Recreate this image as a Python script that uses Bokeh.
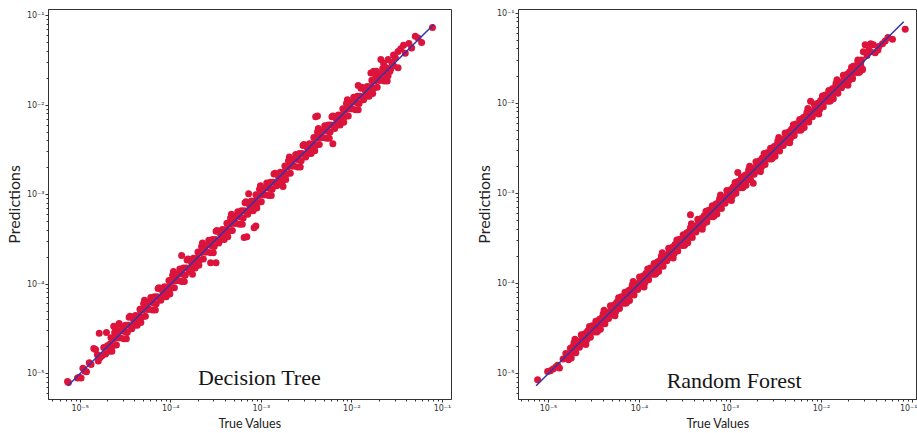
from bokeh.plotting import figure
from bokeh.layouts import row
from bokeh.models import FixedTicker, CustomJSTickFormatter, Label, Range1d, ColumnDataSource
from bokeh.embed import file_html
from bokeh.resources import INLINE

# ---------------- data (log10 of values) ----------------
dt_true_log10 = [
    -5.14, -5.13, -5.03, -5.01, -4.99, -4.97, -4.95, -4.93, -4.90, -4.88,
    -4.85, -4.83, -4.81, -4.80, -4.78, -4.76, -4.74, -4.71, -4.72, -4.70,
    -4.68, -4.67, -4.66, -4.64, -4.63, -4.62, -4.60, -4.59, -4.58, -4.56, -4.55, -4.54,
    -4.52, -4.51, -4.50, -4.48, -4.47, -4.46, -4.44, -4.43, -4.42, -4.40, -4.39, -4.38,
    -4.36, -4.35, -4.34, -4.32, -4.31, -4.30, -4.28, -4.27, -4.26, -4.24, -4.23, -4.22,
    -4.20, -4.19, -4.18, -4.16, -4.15, -4.14, -4.12, -4.11, -4.10, -4.08, -4.07, -4.06,
    -4.04, -4.03, -4.02, -4.00, -3.99, -3.98, -3.96, -3.95, -3.94, -3.92, -3.91, -3.90,
    -3.88, -3.87, -3.86, -3.84, -3.83, -3.82, -3.80, -3.79, -3.78, -3.76, -3.75, -3.74,
    -3.72, -3.71, -3.70, -3.68, -3.67, -3.66, -3.64, -3.63, -3.62, -3.60, -3.59, -3.58,
    -3.56, -3.55, -3.54, -3.52, -3.51, -3.50, -3.48, -3.47, -3.46, -3.44, -3.43, -3.42,
    -3.40, -3.39, -3.38, -3.36, -3.35, -3.34, -3.32, -3.31, -3.30, -3.28, -3.27, -3.26,
    -3.24, -3.23, -3.22, -3.20, -3.19, -3.18, -3.16, -3.15, -3.14, -3.12, -3.11, -3.10,
    -3.08, -3.07, -3.06, -3.04, -3.03, -3.02, -3.00, -2.99, -2.98, -2.96, -2.95, -2.94,
    -2.92, -2.91, -2.90, -2.88, -2.87, -2.86, -2.84, -2.83, -2.82, -2.80, -2.79, -2.78,
    -2.76, -2.75, -2.74, -2.72, -2.71, -2.70, -2.68, -2.67, -2.66, -2.64, -2.63, -2.62,
    -2.60, -2.59, -2.58, -2.56, -2.55, -2.54, -2.52, -2.51, -2.50, -2.48, -2.47, -2.46,
    -2.44, -2.43, -2.42, -2.40, -2.39, -2.38, -2.36, -2.35, -2.34, -2.32, -2.31, -2.30,
    -2.28, -2.27, -2.26, -2.24, -2.23, -2.22, -2.20, -2.19, -2.18, -2.16, -2.15, -2.14,
    -2.12, -2.11, -2.10, -2.08, -2.07, -2.06, -2.04, -2.03, -2.02, -2.00, -1.99, -1.98,
    -1.96, -1.95, -1.94, -1.92, -1.91, -1.90, -1.88, -1.87, -1.86, -1.84, -1.83, -1.82,
    -1.80, -1.79, -1.78, -1.76, -1.75, -1.74, -1.72, -1.71, -1.70, -1.68, -1.67, -1.66,
    -1.64, -1.63, -1.62,
    -1.11, -1.30, -1.23, -1.37, -1.43, -1.46, -1.49, -1.54, -1.52, -1.60, -1.68, -1.65,
    -1.54, -1.57, -1.49, -1.76, -1.79, -1.60, -1.63, -1.58, -1.56, -1.41, -1.34, -1.27,
    -2.40, -2.38, -2.21, -2.76, -3.19, -3.16, -3.08, -3.06, -3.56, -3.50, -3.76, -1.93,
    -3.88, -4.79, -4.63, -4.57, -2.15, -3.14,
    -4.65, -4.61, -4.57, -4.53, -4.49, -4.45, -4.41, -4.37, -4.33, -4.29, -4.25, -4.21,
    -4.17, -4.13, -4.09, -4.05, -4.01, -3.97, -3.93, -3.89, -3.85, -3.81, -3.77, -3.73,
    -3.69, -3.65, -3.61, -3.57, -3.53, -3.49, -3.45, -3.41, -3.37, -3.33, -3.29, -3.25,
    -3.21, -3.17, -3.13, -3.09, -3.05, -3.01, -2.97, -2.93, -2.89, -2.85, -2.81, -2.77,
    -2.73, -2.69, -2.65, -2.61, -2.57, -2.53, -2.49, -2.45, -2.41, -2.37, -2.33, -2.29,
    -2.25, -2.21, -2.17, -2.13, -2.09, -2.05, -2.01, -1.97, -1.93, -1.89, -1.85, -1.81,
    -1.77, -1.73, -1.69, -1.65, -1.61,
]
dt_pred_log10 = [
    -5.09, -5.10, -5.05, -5.04, -5.05, -4.94, -4.97, -4.98, -4.88, -4.90,
    -4.72, -4.73, -4.79, -4.86, -4.82, -4.80, -4.71, -4.54, -4.78, -4.69,
    -4.75, -4.67, -4.60, -4.69, -4.61, -4.54, -4.68, -4.60, -4.53, -4.60, -4.52, -4.47,
    -4.61, -4.53, -4.46, -4.54, -4.46, -4.37, -4.47, -4.50, -4.37, -4.46, -4.35, -4.39,
    -4.43, -4.35, -4.28, -4.37, -4.29, -4.22, -4.36, -4.28, -4.21, -4.28, -4.20, -4.15,
    -4.29, -4.21, -4.14, -4.22, -4.14, -4.05, -4.15, -4.18, -4.05, -4.14, -4.03, -4.07,
    -4.11, -4.03, -3.96, -4.05, -3.97, -3.90, -4.04, -3.96, -3.89, -3.96, -3.88, -3.83,
    -3.97, -3.89, -3.82, -3.90, -3.82, -3.73, -3.83, -3.86, -3.73, -3.82, -3.71, -3.75,
    -3.79, -3.71, -3.64, -3.73, -3.65, -3.58, -3.72, -3.64, -3.57, -3.64, -3.56, -3.51,
    -3.65, -3.57, -3.50, -3.58, -3.50, -3.41, -3.51, -3.54, -3.41, -3.50, -3.39, -3.43,
    -3.47, -3.39, -3.32, -3.41, -3.33, -3.26, -3.40, -3.32, -3.25, -3.32, -3.24, -3.19,
    -3.33, -3.25, -3.18, -3.26, -3.18, -3.09, -3.19, -3.22, -3.09, -3.18, -3.07, -3.11,
    -3.15, -3.07, -3.00, -3.09, -3.01, -2.94, -3.08, -3.00, -2.93, -3.00, -2.92, -2.87,
    -3.01, -2.93, -2.86, -2.94, -2.86, -2.77, -2.87, -2.90, -2.77, -2.86, -2.75, -2.79,
    -2.83, -2.75, -2.68, -2.77, -2.69, -2.62, -2.76, -2.68, -2.61, -2.68, -2.60, -2.55,
    -2.69, -2.61, -2.54, -2.62, -2.54, -2.45, -2.55, -2.58, -2.45, -2.54, -2.43, -2.47,
    -2.51, -2.43, -2.36, -2.45, -2.37, -2.30, -2.44, -2.36, -2.29, -2.36, -2.28, -2.23,
    -2.37, -2.29, -2.22, -2.30, -2.22, -2.13, -2.23, -2.26, -2.13, -2.22, -2.11, -2.15,
    -2.19, -2.11, -2.04, -2.13, -2.05, -1.98, -2.12, -2.04, -1.97, -2.04, -1.96, -1.91,
    -2.05, -1.97, -1.90, -1.98, -1.90, -1.81, -1.91, -1.94, -1.81, -1.90, -1.79, -1.83,
    -1.87, -1.79, -1.72, -1.81, -1.73, -1.66, -1.80, -1.72, -1.65, -1.72, -1.64, -1.59,
    -1.73, -1.65, -1.58,
    -1.13, -1.23, -1.30, -1.31, -1.33, -1.37, -1.40, -1.44, -1.47, -1.49, -1.49, -1.53,
    -1.56, -1.59, -1.58, -1.62, -1.64, -1.67, -1.70, -1.62, -1.52, -1.42, -1.36, -1.25,
    -2.13, -2.12, -2.43, -2.91, -3.48, -3.47, -3.37, -3.35, -3.76, -3.76, -3.89, -1.78,
    -3.68, -4.55, -4.47, -4.44, -2.14, -2.99,
    -4.75, -4.50, -4.60, -4.49, -4.61, -4.36, -4.40, -4.46, -4.43, -4.18, -4.28, -4.17,
    -4.29, -4.04, -4.08, -4.14, -4.11, -3.86, -3.96, -3.85, -3.97, -3.72, -3.76, -3.82,
    -3.79, -3.54, -3.64, -3.53, -3.65, -3.40, -3.44, -3.50, -3.47, -3.22, -3.32, -3.21,
    -3.33, -3.08, -3.12, -3.18, -3.15, -2.90, -3.00, -2.89, -3.01, -2.76, -2.80, -2.86,
    -2.83, -2.58, -2.68, -2.57, -2.69, -2.44, -2.48, -2.54, -2.51, -2.26, -2.36, -2.25,
    -2.37, -2.12, -2.16, -2.22, -2.19, -1.94, -2.04, -1.93, -2.05, -1.80, -1.84, -1.90,
    -1.87, -1.62, -1.72, -1.61, -1.73,
]

rf_true_log10 = [
    -5.12, -5.01, -4.98, -4.95, -4.92, -4.90, -4.88, -4.84, -4.81,
    -4.78, -4.77, -4.76, -4.74, -4.73, -4.72, -4.70, -4.69, -4.68, -4.66, -4.65, -4.64,
    -4.62, -4.61, -4.60, -4.58, -4.57, -4.56, -4.54, -4.53, -4.52, -4.50, -4.49, -4.48,
    -4.46, -4.45, -4.44, -4.42, -4.41, -4.40, -4.38, -4.37, -4.36, -4.34, -4.33, -4.32,
    -4.30, -4.29, -4.28, -4.26, -4.25, -4.24, -4.22, -4.21, -4.20, -4.18, -4.17, -4.16,
    -4.14, -4.13, -4.12, -4.10, -4.09, -4.08, -4.06, -4.05, -4.04, -4.02, -4.01, -4.00,
    -3.98, -3.97, -3.96, -3.94, -3.93, -3.92, -3.90, -3.89, -3.88, -3.86, -3.85, -3.84,
    -3.82, -3.81, -3.80, -3.78, -3.77, -3.76, -3.74, -3.73, -3.72, -3.70, -3.69, -3.68,
    -3.66, -3.65, -3.64, -3.62, -3.61, -3.60, -3.58, -3.57, -3.56, -3.54, -3.53, -3.52,
    -3.50, -3.49, -3.48, -3.46, -3.45, -3.44, -3.42, -3.41, -3.40, -3.38, -3.37, -3.36,
    -3.34, -3.33, -3.32, -3.30, -3.29, -3.28, -3.26, -3.25, -3.24, -3.22, -3.21, -3.20,
    -3.18, -3.17, -3.16, -3.14, -3.13, -3.12, -3.10, -3.09, -3.08, -3.06, -3.05, -3.04,
    -3.02, -3.01, -3.00, -2.98, -2.97, -2.96, -2.94, -2.93, -2.92, -2.90, -2.89, -2.88,
    -2.86, -2.85, -2.84, -2.82, -2.81, -2.80, -2.78, -2.77, -2.76, -2.74, -2.73, -2.72,
    -2.70, -2.69, -2.68, -2.66, -2.65, -2.64, -2.62, -2.61, -2.60, -2.58, -2.57, -2.56,
    -2.54, -2.53, -2.52, -2.50, -2.49, -2.48, -2.46, -2.45, -2.44, -2.42, -2.41, -2.40,
    -2.38, -2.37, -2.36, -2.34, -2.33, -2.32, -2.30, -2.29, -2.28, -2.26, -2.25, -2.24,
    -2.22, -2.21, -2.20, -2.18, -2.17, -2.16, -2.14, -2.13, -2.12, -2.10, -2.09, -2.08,
    -2.06, -2.05, -2.04, -2.02, -2.01, -2.00, -1.98, -1.97, -1.96, -1.94, -1.93, -1.92,
    -1.90, -1.89, -1.88, -1.86, -1.85, -1.84, -1.82, -1.81, -1.80, -1.78, -1.77, -1.76,
    -1.74, -1.73, -1.72, -1.70, -1.69, -1.68, -1.66, -1.65, -1.64, -1.62, -1.61, -1.60,
    -1.58, -1.57, -1.56,
    -1.08, -1.22, -1.27, -1.33, -1.37, -1.52, -1.46, -1.43, -1.48, -1.54, -1.57, -1.60,
    -1.55, -1.65, -1.46, -1.38, -1.68, -1.66, -1.50, -1.41, -1.30,
    -2.75, -2.92, -2.12, -3.44,
    -4.75, -4.71, -4.67, -4.63, -4.59, -4.55, -4.51, -4.47, -4.43, -4.39, -4.35, -4.31,
    -4.27, -4.23, -4.19, -4.15, -4.11, -4.07, -4.03, -3.99, -3.95, -3.91, -3.87, -3.83,
    -3.79, -3.75, -3.71, -3.67, -3.63, -3.59, -3.55, -3.51, -3.47, -3.43, -3.39, -3.35,
    -3.31, -3.27, -3.23, -3.19, -3.15, -3.11, -3.07, -3.03, -2.99, -2.95, -2.91, -2.87,
    -2.83, -2.79, -2.75, -2.71, -2.67, -2.63, -2.59, -2.55, -2.51, -2.47, -2.43, -2.39,
    -2.35, -2.31, -2.27, -2.23, -2.19, -2.15, -2.11, -2.07, -2.03, -1.99, -1.95, -1.91,
    -1.87, -1.83, -1.79, -1.75, -1.71, -1.67, -1.63, -1.59, -1.55,
]
rf_pred_log10 = [
    -5.07, -4.98, -4.97, -4.95, -4.93, -4.91, -4.94, -4.84, -4.78,
    -4.85, -4.78, -4.72, -4.77, -4.70, -4.66, -4.77, -4.71, -4.65, -4.71, -4.64, -4.57,
    -4.64, -4.67, -4.56, -4.63, -4.53, -4.57, -4.60, -4.53, -4.47, -4.54, -4.47, -4.42,
    -4.53, -4.46, -4.40, -4.45, -4.38, -4.34, -4.45, -4.39, -4.33, -4.39, -4.32, -4.25,
    -4.32, -4.35, -4.24, -4.31, -4.21, -4.25, -4.28, -4.21, -4.15, -4.22, -4.15, -4.10,
    -4.21, -4.14, -4.08, -4.13, -4.06, -4.02, -4.13, -4.07, -4.01, -4.07, -4.00, -3.93,
    -4.00, -4.03, -3.92, -3.99, -3.89, -3.93, -3.96, -3.89, -3.83, -3.90, -3.83, -3.78,
    -3.89, -3.82, -3.76, -3.81, -3.74, -3.70, -3.81, -3.75, -3.69, -3.75, -3.68, -3.61,
    -3.68, -3.71, -3.60, -3.67, -3.57, -3.61, -3.64, -3.57, -3.51, -3.58, -3.51, -3.46,
    -3.57, -3.50, -3.44, -3.49, -3.42, -3.38, -3.49, -3.43, -3.37, -3.43, -3.36, -3.29,
    -3.36, -3.39, -3.28, -3.35, -3.25, -3.29, -3.32, -3.25, -3.19, -3.26, -3.19, -3.14,
    -3.25, -3.18, -3.12, -3.17, -3.10, -3.06, -3.17, -3.11, -3.05, -3.11, -3.04, -2.97,
    -3.04, -3.07, -2.96, -3.03, -2.93, -2.97, -3.00, -2.93, -2.87, -2.94, -2.87, -2.82,
    -2.93, -2.86, -2.80, -2.85, -2.78, -2.74, -2.85, -2.79, -2.73, -2.79, -2.72, -2.65,
    -2.72, -2.75, -2.64, -2.71, -2.61, -2.65, -2.68, -2.61, -2.55, -2.62, -2.55, -2.50,
    -2.61, -2.54, -2.48, -2.53, -2.46, -2.42, -2.53, -2.47, -2.41, -2.47, -2.40, -2.33,
    -2.40, -2.43, -2.32, -2.39, -2.29, -2.33, -2.36, -2.29, -2.23, -2.30, -2.23, -2.18,
    -2.29, -2.22, -2.16, -2.21, -2.14, -2.10, -2.21, -2.15, -2.09, -2.15, -2.08, -2.01,
    -2.08, -2.11, -2.00, -2.07, -1.97, -2.01, -2.04, -1.97, -1.91, -1.98, -1.91, -1.86,
    -1.97, -1.90, -1.84, -1.89, -1.82, -1.78, -1.89, -1.83, -1.77, -1.83, -1.76, -1.69,
    -1.76, -1.79, -1.68, -1.75, -1.65, -1.69, -1.72, -1.65, -1.59, -1.66, -1.59, -1.54,
    -1.65, -1.58, -1.52,
    -1.18, -1.29, -1.27, -1.34, -1.37, -1.35, -1.34, -1.35, -1.41, -1.43, -1.56, -1.52,
    -1.62, -1.59, -1.43, -1.41, -1.67, -1.73, -1.47, -1.44, -1.31,
    -2.89, -2.77, -1.98, -3.24,
    -4.83, -4.62, -4.69, -4.60, -4.68, -4.48, -4.51, -4.54, -4.51, -4.30, -4.37, -4.28,
    -4.36, -4.16, -4.19, -4.22, -4.19, -3.98, -4.05, -3.96, -4.04, -3.84, -3.87, -3.90,
    -3.87, -3.66, -3.73, -3.64, -3.72, -3.52, -3.55, -3.58, -3.55, -3.34, -3.41, -3.32,
    -3.40, -3.20, -3.23, -3.26, -3.23, -3.02, -3.09, -3.00, -3.08, -2.88, -2.91, -2.94,
    -2.91, -2.70, -2.77, -2.68, -2.76, -2.56, -2.59, -2.62, -2.59, -2.38, -2.45, -2.36,
    -2.44, -2.24, -2.27, -2.30, -2.27, -2.06, -2.13, -2.04, -2.12, -1.92, -1.95, -1.98,
    -1.95, -1.74, -1.81, -1.72, -1.80, -1.60, -1.63, -1.66, -1.63,
]

# ideal y = x reference line (ends)
ref_line = [7.3e-6, 8.0e-2]

panel_names = ["Decision Tree", "Random Forest"]
major_ticks = [1e-5, 1e-4, 1e-3, 1e-2, 1e-1]

# ---------------- styling ----------------
POINT_COLOR = "#dc143c"
LINE_COLOR = "#3434a8"
AX_COLOR = "#333333"

minor_ticks = [m * t for t in [1e-6, 1e-5, 1e-4, 1e-3, 1e-2, 1e-1] for m in range(2, 10)]

SUP_CODE = """
const e = Math.round(Math.log10(tick));
const m = {"-": "\u207b", "0": "\u2070", "1": "\u00b9", "2": "\u00b2", "3": "\u00b3",
           "4": "\u2074", "5": "\u2075", "6": "\u2076", "7": "\u2077", "8": "\u2078", "9": "\u2079"};
return "10" + String(e).split("").map(c => m[c]).join("");
"""

FIG_H = 433


def make_panel(true_log, pred_log, name, xr, yr, width, borders, label_xy):
    left, right, top, bottom = borders
    p = figure(width=width, height=FIG_H, x_axis_type="log", y_axis_type="log",
               x_range=Range1d(*xr), y_range=Range1d(*yr),
               output_backend="svg", toolbar_location=None,
               min_border_left=left, min_border_right=right,
               min_border_top=top, min_border_bottom=bottom)
    p.background_fill_color = "white"
    p.border_fill_color = "white"
    p.outline_line_color = AX_COLOR
    p.outline_line_width = 1
    p.grid.visible = False

    src = ColumnDataSource(dict(x=[10 ** v for v in true_log],
                                y=[10 ** v for v in pred_log]))
    p.scatter("x", "y", source=src, size=7, fill_color=POINT_COLOR,
              line_color=None)
    p.line(ref_line, ref_line, line_color=LINE_COLOR, line_width=1.5)

    for ax in (p.xaxis[0], p.yaxis[0]):
        ax.ticker = FixedTicker(ticks=major_ticks, minor_ticks=minor_ticks)
        ax.formatter = CustomJSTickFormatter(code=SUP_CODE)
        ax.major_label_text_font = "DejaVu Sans"
        ax.major_label_text_font_size = "8px"
        ax.major_label_text_color = AX_COLOR
        ax.major_label_standoff = 1
        ax.major_tick_out = 3
        ax.major_tick_in = 0
        ax.minor_tick_out = 2
        ax.minor_tick_in = 0
        ax.axis_line_color = AX_COLOR
        ax.major_tick_line_color = AX_COLOR
        ax.minor_tick_line_color = AX_COLOR
        ax.axis_label_text_font = "Lato"
        ax.axis_label_text_font_style = "normal"
        ax.axis_label_text_color = "#222222"
        ax.axis_label_standoff = 1

    p.xaxis.axis_label = "True Values"
    p.xaxis.axis_label_text_font_size = "12.5px"
    p.xaxis.axis_label_standoff = 0
    p.yaxis.axis_label = "Predictions"
    p.yaxis.axis_label_text_font_size = "16px"

    p.add_layout(Label(x=label_xy[0], y=label_xy[1], text=name,
                       text_font="Liberation Serif", text_font_size="22px",
                       text_align="center", text_baseline="alphabetic",
                       text_color="#151515"))
    return p


p1 = make_panel(dt_true_log10, dt_pred_log10, panel_names[0],
                (10 ** -5.35, 10 ** -0.90), (10 ** -5.29, 10 ** -0.93),
                460, (46, 9, 9, 29), (10 ** -3.02, 10 ** -5.04))
p2 = make_panel(rf_true_log10, rf_pred_log10, panel_names[1],
                (10 ** -5.33, 10 ** -0.945), (10 ** -5.29, 10 ** -0.96),
                457, (58, 0, 7, 32), (10 ** -2.96, 10 ** -5.08))

layout = row(p1, p2)
open("out.html", "w").write(file_html(layout, INLINE))
